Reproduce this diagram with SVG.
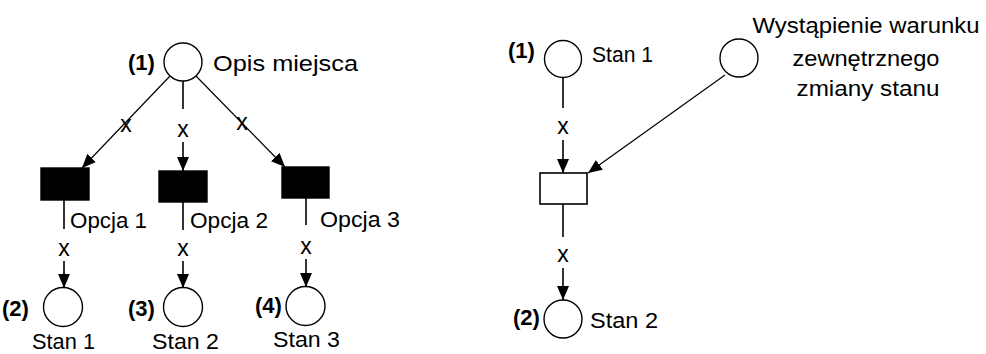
<svg xmlns="http://www.w3.org/2000/svg" width="986" height="354" viewBox="0 0 986 354">
  <style>
    .place { fill: #ffffff; stroke: #000000; stroke-width: 1.4; }
    .trans { fill: #000000; stroke: #000000; stroke-width: 1.4; }
    .trans-empty { fill: #ffffff; stroke: #000000; stroke-width: 1.6; }
    .arc { fill: none; stroke: #000000; stroke-width: 1.6; }
    .arc-thin { fill: none; stroke: #000000; stroke-width: 1.2; }
    .lbl { font-family: "Liberation Sans", Arial, sans-serif; font-size: 22px; fill: #000000; }
    .num { font-family: "Liberation Sans", Arial, sans-serif; font-size: 22px; font-weight: bold; fill: #000000; }
    .w { font-family: "Liberation Sans", Arial, sans-serif; font-size: 23px; fill: #000000; text-anchor: middle; }
  </style>
  <defs>
    <marker id="arrow" markerUnits="userSpaceOnUse" markerWidth="14" markerHeight="12" viewBox="0 0 14 12" refX="14" refY="6" orient="auto">
      <path d="M0,0 L14,6 L0,12 z" fill="#000000"/>
    </marker>
  </defs>

  <!-- connectors: arcs and their weights -->
  <g id="connectors">
    <!-- left net: place (1) to the three transitions -->
    <line class="arc" x1="183" y1="81" x2="183" y2="109"/>
    <line class="arc" x1="183" y1="142" x2="183" y2="171" marker-end="url(#arrow)"/>
    <line class="arc-thin" x1="170" y1="76" x2="82" y2="168" marker-end="url(#arrow)"/>
    <line class="arc-thin" x1="196" y1="76" x2="285" y2="167" marker-end="url(#arrow)"/>
    <text class="w" x="126" y="132">x</text>
    <text class="w" x="183" y="137">x</text>
    <text class="w" x="242" y="130">x</text>

    <!-- left net: transitions to result places -->
    <line class="arc" x1="64" y1="200" x2="64" y2="229"/>
    <line class="arc" x1="64" y1="261" x2="64" y2="288" marker-end="url(#arrow)"/>
    <line class="arc" x1="183" y1="202" x2="183" y2="230"/>
    <line class="arc" x1="183" y1="261" x2="183" y2="288" marker-end="url(#arrow)"/>
    <line class="arc" x1="306" y1="198" x2="306" y2="225"/>
    <line class="arc" x1="306" y1="259" x2="306" y2="287" marker-end="url(#arrow)"/>
    <text class="w" x="64" y="256">x</text>
    <text class="w" x="183" y="256">x</text>
    <text class="w" x="306" y="254">x</text>

    <!-- right net -->
    <line class="arc" x1="563" y1="77" x2="563" y2="108"/>
    <line class="arc" x1="563" y1="140" x2="563" y2="173" marker-end="url(#arrow)"/>
    <line class="arc-thin" x1="725" y1="75" x2="588" y2="173" marker-end="url(#arrow)"/>
    <line class="arc" x1="563" y1="204" x2="563" y2="237"/>
    <line class="arc" x1="563" y1="268" x2="563" y2="300" marker-end="url(#arrow)"/>
    <text class="w" x="563" y="134">x</text>
    <text class="w" x="563" y="262">x</text>
  </g>

  <!-- left net: places -->
  <g id="p-opis">
    <circle class="place" cx="183" cy="62" r="19"/>
    <text class="num" x="128" y="70">(1)</text>
    <text class="lbl" x="213" y="71" textLength="145" lengthAdjust="spacingAndGlyphs">Opis miejsca</text>
  </g>
  <g id="p-stan1">
    <circle class="place" cx="63" cy="307" r="19.5"/>
    <text class="num" x="2" y="316">(2)</text>
    <text class="lbl" x="32" y="349" textLength="63" lengthAdjust="spacingAndGlyphs">Stan 1</text>
  </g>
  <g id="p-stan2">
    <circle class="place" cx="183" cy="307" r="19.5"/>
    <text class="num" x="128" y="316">(3)</text>
    <text class="lbl" x="152" y="349" textLength="67" lengthAdjust="spacingAndGlyphs">Stan 2</text>
  </g>
  <g id="p-stan3">
    <circle class="place" cx="305.5" cy="306" r="19.5"/>
    <text class="num" x="255" y="313">(4)</text>
    <text class="lbl" x="273" y="347" textLength="67" lengthAdjust="spacingAndGlyphs">Stan 3</text>
  </g>

  <!-- left net: transitions -->
  <g id="t-opcja1">
    <rect class="trans" x="41" y="168" width="48" height="32"/>
    <text class="lbl" x="70" y="228" textLength="77" lengthAdjust="spacingAndGlyphs">Opcja 1</text>
  </g>
  <g id="t-opcja2">
    <rect class="trans" x="159" y="171" width="48" height="31"/>
    <text class="lbl" x="190" y="228" textLength="78" lengthAdjust="spacingAndGlyphs">Opcja 2</text>
  </g>
  <g id="t-opcja3">
    <rect class="trans" x="282" y="167" width="47" height="31"/>
    <text class="lbl" x="320" y="227" textLength="80" lengthAdjust="spacingAndGlyphs">Opcja 3</text>
  </g>

  <!-- right net -->
  <g id="r-stan1">
    <circle class="place" cx="563" cy="59" r="18.5"/>
    <text class="num" x="508" y="58">(1)</text>
    <text class="lbl" x="592" y="62" textLength="61" lengthAdjust="spacingAndGlyphs">Stan 1</text>
  </g>
  <g id="r-warunek">
    <circle class="place" cx="739" cy="58" r="19"/>
    <text class="lbl" x="866" y="33" text-anchor="middle" textLength="227" lengthAdjust="spacingAndGlyphs">Wystąpienie warunku</text>
    <text class="lbl" x="866" y="66" text-anchor="middle" textLength="147" lengthAdjust="spacingAndGlyphs">zewnętrznego</text>
    <text class="lbl" x="868" y="96" text-anchor="middle" textLength="143" lengthAdjust="spacingAndGlyphs">zmiany stanu</text>
  </g>
  <g id="r-przejscie">
    <rect class="trans-empty" x="540" y="173" width="47" height="31"/>
  </g>
  <g id="r-stan2">
    <circle class="place" cx="563" cy="319" r="19"/>
    <text class="num" x="513" y="325">(2)</text>
    <text class="lbl" x="590" y="328" textLength="68" lengthAdjust="spacingAndGlyphs">Stan 2</text>
  </g>
</svg>
